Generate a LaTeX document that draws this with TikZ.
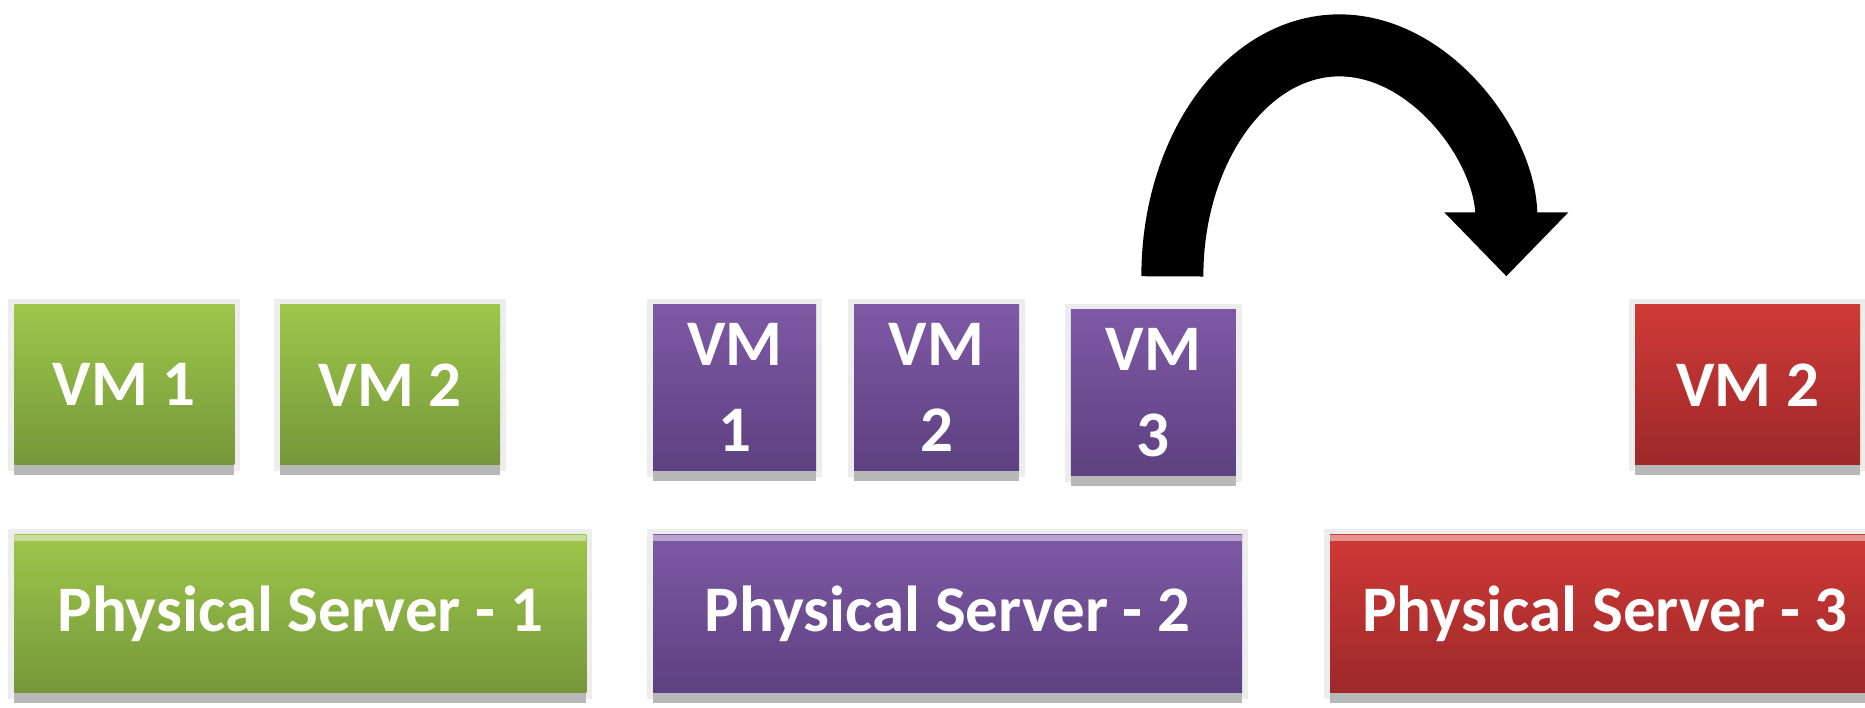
\documentclass[tikz,border=0pt]{standalone}
\usepackage{fontspec}
\setmainfont{Carlito}
\usetikzlibrary{positioning,shadows,arrows.meta}

\definecolor{greentop}{RGB}{157,198,74}
\definecolor{greenbot}{RGB}{118,151,58}
\definecolor{purpletop}{RGB}{126,89,165}
\definecolor{purplebot}{RGB}{93,65,128}
\definecolor{redtop}{RGB}{207,58,54}
\definecolor{redbot}{RGB}{157,40,42}

\begin{document}
\begin{tikzpicture}[thick,
    box/.style={rectangle, text=white, align=center, inner sep=0pt,
      font=\fontsize{18.5}{24.5}\selectfont\bfseries,
      preaction={draw=black!7, line width=0.12cm},
      drop shadow={shadow xshift=0cm, shadow yshift=-0.1cm, fill=black!28, opacity=1}},
    server node/.style={box, minimum width=5.72cm, minimum height=1.58cm,
      path picture={\fill[white, opacity=0.45] (path picture bounding box.north west)
        rectangle ([yshift=-0.06cm]path picture bounding box.north east);}},
    vm node/.style={box, minimum width=2.2cm, minimum height=1.6cm},
    slim vm/.style={box, minimum width=1.65cm, minimum height=1.66cm},
    green box/.style={top color=greentop, bottom color=greenbot},
    purple box/.style={top color=purpletop, bottom color=purplebot},
    red box/.style={top color=redtop, bottom color=redbot}]

  \useasboundingbox (0,0) rectangle (18.65,7.07);

  % servers
  \node[server node, green box, anchor=south west] (ps1) at (0.13,0.13) {Physical Server - 1};
  \node[server node, purple box, minimum width=5.89cm, right=0.64cm of ps1] (ps2) {Physical Server - 2};
  \node[server node, red box, minimum width=5.5cm, right=0.85cm of ps2] (ps3) {Physical Server - 3};

  % virtual machines
  \node[vm node, green box, above right=0.67cm and 0cm of ps1.north west] (gvm1) {VM 1};
  \node[vm node, green box, right=0.43cm of gvm1] (gvm2) {VM 2};
  \node[slim vm, purple box, minimum width=1.63cm, above right=0.61cm and 0cm of ps2.north west] (pvm1) {VM\\1};
  \node[slim vm, purple box, right=0.35cm of pvm1] (pvm2) {VM\\2};
  \node[slim vm, purple box, right=0.49cm of pvm2, yshift=-0.05cm] (pvm3) {VM\\3};
  \node[vm node, red box, minimum width=2.25cm, above left=0.67cm and 0.2cm of ps3.north east] (rvm2) {VM 2};

  % migration arrow
  \coordinate (lift) at ([xshift=0.19cm, yshift=0.32cm]pvm3.north);
  \coordinate (crest) at ([xshift=1.67cm, yshift=2.31cm]lift);
  \coordinate (drop) at ([xshift=3.34cm]lift);
  \draw[line width=0.62cm, -{Triangle[width=1.2cm, length=0.64cm]}]
    (lift) .. controls +(0,1.28) and +(-0.92,0) .. (crest)
           .. controls +(0.92,0) and +(0,1.28) .. (drop);
\end{tikzpicture}
\end{document}
